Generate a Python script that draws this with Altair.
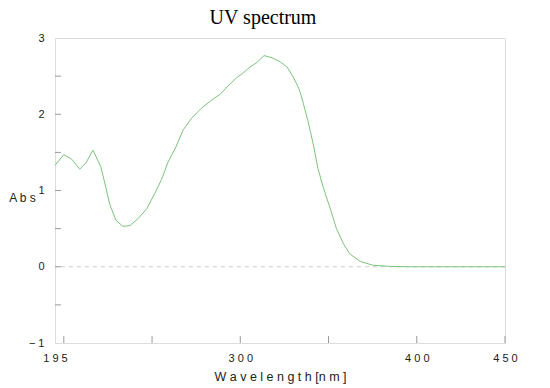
import altair as alt
import pandas as pd

wavelength = [195, 200, 204.5, 209, 212.5, 216.5, 221, 223.5, 226, 229.5, 233.5, 237.5,
              242, 247, 251.5, 255.5, 259, 263.5, 267.5, 272.5, 278, 284, 288.5, 293,
              298, 301.5, 305.5, 309.5, 313.5, 318, 322.5, 326.5, 330, 333.5, 335.5,
              338.5, 341.5, 344, 347, 351, 354.5, 358.5, 362, 368, 375, 385, 395, 410,
              425, 440, 450]
absorbance = [1.33, 1.47, 1.41, 1.28, 1.36, 1.53, 1.31, 1.07, 0.82, 0.61, 0.53, 0.54,
              0.63, 0.76, 0.96, 1.15, 1.37, 1.57, 1.79, 1.95, 2.08, 2.19, 2.26, 2.37,
              2.48, 2.54, 2.62, 2.68, 2.77, 2.74, 2.69, 2.62, 2.49, 2.32, 2.16,
              1.90, 1.59, 1.29, 1.04, 0.76, 0.50, 0.30, 0.17, 0.07, 0.02, 0.005, 0.0, 0.0,
              0.0, 0.0, 0.0]

x_label_values = [195, 300, 400, 450]
x_tick_values = [200, 250, 300, 350, 400, 450]
y_label_values = [-1, 0, 1, 2, 3]
y_tick_values = [-0.5, 0, 0.5, 1, 1.5, 2, 2.5]
zero_line = [0]

W, H = 450, 305
FONT = "Liberation Sans"

spec_df = pd.DataFrame({"wavelength": wavelength, "absorbance": absorbance})
xt_df = pd.DataFrame({"wavelength": x_tick_values})
yt_df = pd.DataFrame({"absorbance": y_tick_values})
zero_df = pd.DataFrame({"absorbance": zero_line})

xscale = alt.Scale(domain=[195, 450], nice=False, zero=False)
yscale = alt.Scale(domain=[-1, 3], nice=False, zero=False)

spaced = "join(split(datum.label, ''), ' ')"

x_axis = alt.Axis(values=x_label_values, format="d", labelExpr=spaced, ticks=False,
                  domain=False, grid=False, labelFlush=False, labelOverlap=False,
                  labelPadding=9, labelFont=FONT, labelFontSize=11, labelColor="#222",
                  title="W a v e l e n g t h [n m ]", titleFont=FONT, titleFontSize=12.5,
                  titleFontWeight="normal", titleColor="#222", titlePadding=7)
y_axis = alt.Axis(values=y_label_values, format="d", labelExpr=spaced, ticks=False,
                  domain=False, grid=False, labelFlush=False, labelOverlap=False,
                  labelPadding=11, labelFont=FONT, labelFontSize=11, labelColor="#222",
                  title="A b s", titleFont=FONT, titleFontSize=12, titleFontWeight="normal",
                  titleColor="#222", titleAngle=0, titleAlign="center",
                  titleBaseline="middle", titleX=-33, titleY=159)

line = alt.Chart(spec_df).mark_line(color="#7cc47c", strokeWidth=1).encode(
    x=alt.X("wavelength:Q", scale=xscale, axis=x_axis),
    y=alt.Y("absorbance:Q", scale=yscale, axis=y_axis),
)

zero = alt.Chart(zero_df).mark_rule(color="#cccccc", strokeDash=[4, 4], strokeWidth=1).encode(
    y=alt.Y("absorbance:Q", scale=yscale),
)

xticks = alt.Chart(xt_df).mark_rule(color="#999999", strokeWidth=1).encode(
    x=alt.X("wavelength:Q", scale=xscale),
    y=alt.value(H),
    y2=alt.value(H - 7),
)

yticks = alt.Chart(yt_df).mark_rule(color="#999999", strokeWidth=1).encode(
    y=alt.Y("absorbance:Q", scale=yscale),
    x=alt.value(0),
    x2=alt.value(6),
)

chart = alt.layer(zero, line, xticks, yticks).properties(
    width=W,
    height=H,
    title=alt.TitleParams("UV spectrum", font="Liberation Serif", fontSize=20,
                          fontWeight="normal", color="black", dx=-17, offset=4),
    padding={"left": 47, "top": 30, "right": 37, "bottom": 50},
    autosize=alt.AutoSizeParams(type="none"),
).configure_view(stroke="#aaaaaa", strokeWidth=1).configure(background="white")

chart.save("out.html", embed_options={"renderer": "svg", "actions": False})
